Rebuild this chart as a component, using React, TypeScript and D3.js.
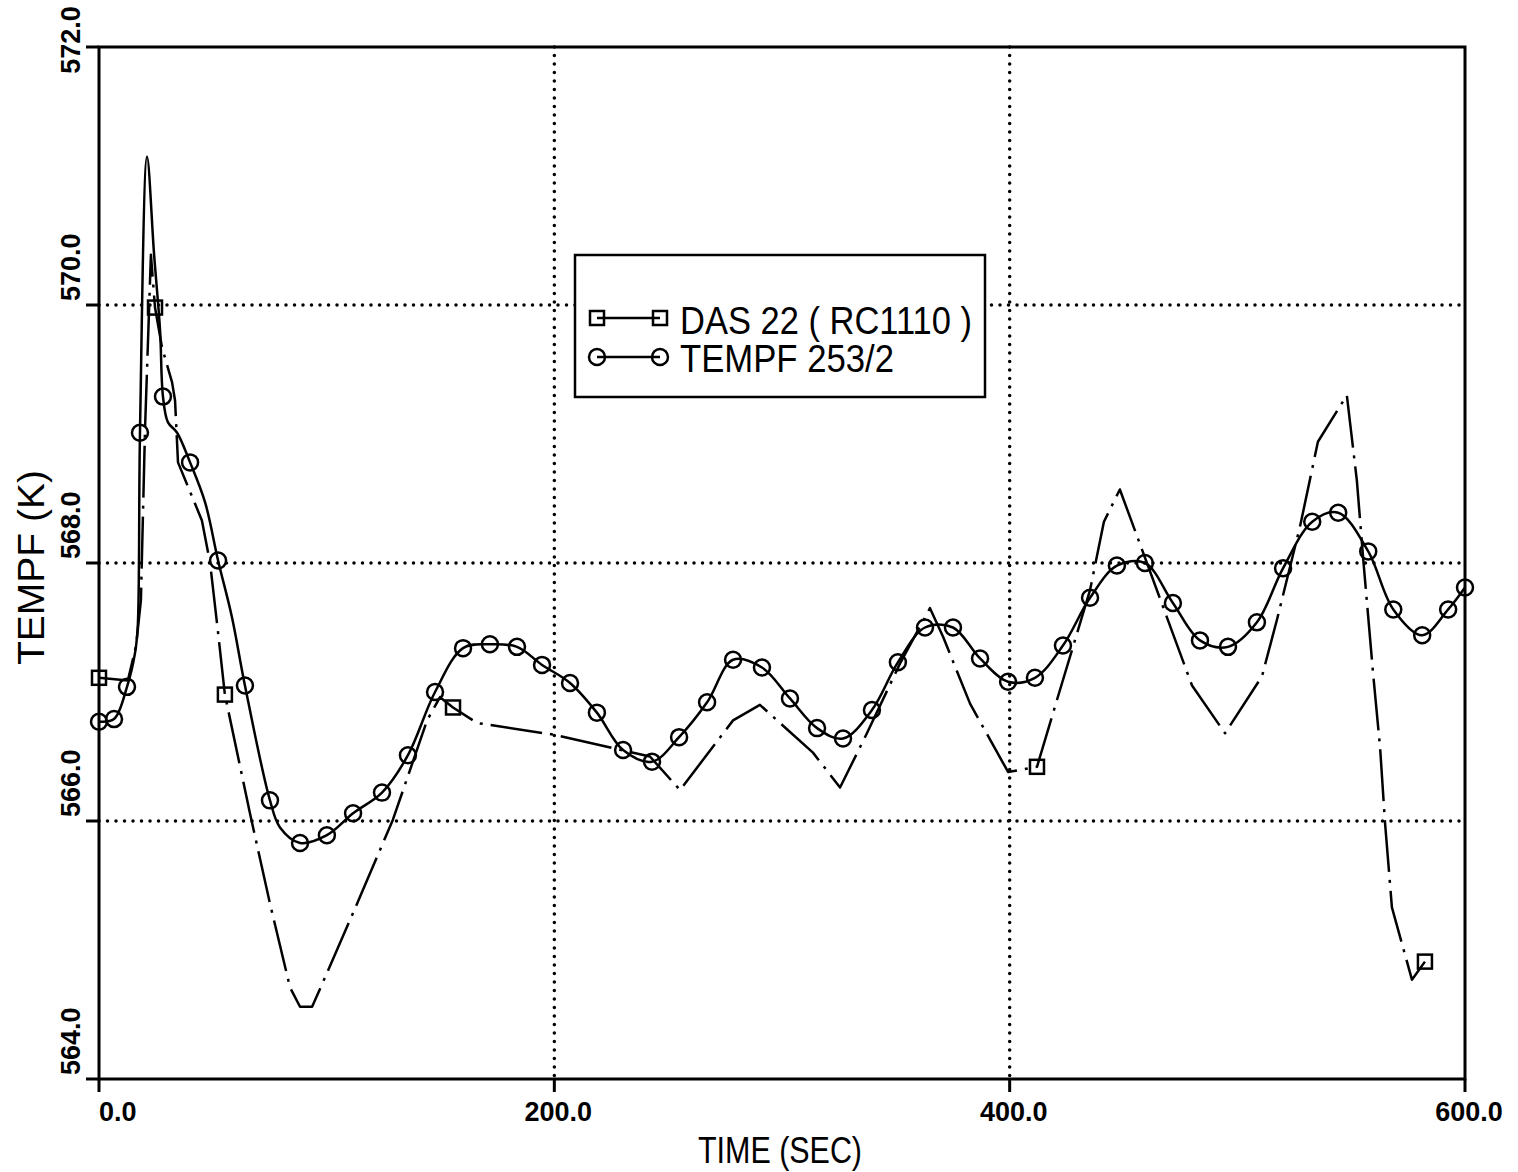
import React from 'react'
import * as d3 from 'd3'

const width = 1518
const height = 1172
const plot = { left: 99, right: 1465, top: 47, bottom: 1079 }

const xTicks = [0, 200, 400, 600]
const xTickLabels = ['0.0', '200.0', '400.0', '600.0']
const yTicks = [564, 566, 568, 570, 572]
const yTickLabels = ['564.0', '566.0', '568.0', '570.0', '572.0']
const xGrid = [200, 400]
const yGrid = [566, 568, 570]

const seriesNames = ['DAS 22 ( RC1110 )', 'TEMPF 253/2']

// DAS 22 (RC1110), dash-dot line, squares on a few points
const dasTime = [
  0, 12.7, 16.3, 18.4, 20.2, 22.8, 24.6, 27.7, 32.1, 33.4, 34.7, 45.2, 48.8, 52.3, 55.3,
  66.3, 75.1, 83.9, 88.3, 93.6, 100.1, 114.6, 129.1, 144.1, 149.8, 155.5, 166.0, 199.4,
  242.0, 255.2, 278.5, 290.3, 313.6, 325.5, 337.3, 351.8, 365.0, 370.7, 382.6, 399.3,
  412.0, 420.8, 435.3, 441.4, 448.4, 480.1, 494.6, 510.8, 517.4, 527.5, 535.4, 548.1,
  552.5, 555.2, 559.6, 562.7, 564.9, 567.9, 576.7, 582.4
]
const dasTemp = [
  567.11, 567.09, 567.36, 567.71, 569.03, 570.39, 569.98, 569.67, 569.40, 569.26, 568.78,
  568.33, 568.00, 567.46, 566.98, 566.06, 565.36, 564.71, 564.56, 564.56, 564.82, 565.41,
  566.01, 566.78, 566.96, 566.88, 566.76, 566.67, 566.50, 566.24, 566.78, 566.90, 566.53,
  566.26, 566.68, 567.22, 567.65, 567.43, 566.91, 566.38, 566.42, 566.94, 567.79, 568.32,
  568.57, 567.05, 566.68, 567.12, 567.56, 568.28, 568.94, 569.30, 568.64, 568.05, 567.15,
  566.57, 565.98, 565.33, 564.77, 564.91
]
const dasMarked = [0, 6, 14, 25, 40, 59]

// TEMPF 253/2, smooth solid line, circles on most points
const tempfTime = [
  0, 6.6, 12.3, 15.8, 17.0, 18.0, 21.1, 24.2, 26.8, 28.1, 30.3, 34.3, 40.0, 46.6, 52.3,
  58.4, 64.1, 75.1, 79.5, 88.3, 100.1, 111.6, 124.3, 135.7, 147.6, 159.9, 171.7, 183.6,
  194.6, 206.9, 218.7, 230.2, 242.9, 254.8, 267.1, 278.5, 291.2, 303.5, 315.4, 326.8,
  339.5, 350.9, 362.8, 375.1, 387.0, 399.3, 411.1, 423.4, 435.3, 447.1, 459.4, 471.7,
  483.6, 495.9, 508.6, 520.1, 532.9, 544.3, 557.5, 568.5, 581.2, 592.6, 600.0
]
const tempfTemp = [
  566.77, 566.79, 567.04, 567.30, 567.50, 569.01, 571.15, 570.39, 569.81, 569.29, 569.09,
  569.01, 568.78, 568.47, 568.02, 567.58, 567.05, 566.16, 565.95, 565.83, 565.89, 566.06,
  566.22, 566.51, 567.00, 567.34, 567.37, 567.35, 567.21, 567.07, 566.84, 566.55, 566.46,
  566.65, 566.92, 567.25, 567.19, 566.95, 566.72, 566.64, 566.86, 567.23, 567.50, 567.50,
  567.26, 567.08, 567.11, 567.36, 567.73, 567.98, 568.00, 567.69, 567.40, 567.35, 567.54,
  567.96, 568.32, 568.39, 568.09, 567.64, 567.44, 567.64, 567.81
]
const tempfUnmarked = [3, 4, 6, 7, 8, 10, 11, 13, 15, 18]

const x = d3.scaleLinear().domain([0, 600]).range([plot.left, plot.right])
const y = d3.scaleLinear().domain([564, 572]).range([plot.bottom, plot.top])

const dasLine = d3.line<number>()
  .x((d, i) => x(dasTime[i]))
  .y(d => y(d))

const tempfLine = d3.line<number>()
  .x((d, i) => x(tempfTime[i]))
  .y(d => y(d))
  .curve(d3.curveCatmullRom.alpha(0.5))

const labelFont = "'Liberation Sans', Arial, sans-serif"
const titleFont = "'Liberation Sans', Arial, sans-serif"

const Square = ({ cx, cy }: { cx: number; cy: number }) => (
  <rect x={cx - 7} y={cy - 7} width={14} height={14} fill="none" stroke="#000" strokeWidth={2.5} />
)
const Circle = ({ cx, cy }: { cx: number; cy: number }) => (
  <circle cx={cx} cy={cy} r={8} fill="none" stroke="#000" strokeWidth={2.5} />
)

const App = () => {
  const legX = 575
  const legY = 255
  return (
    <svg width={width} height={height} style={{ position: 'absolute', left: 0, top: 0, background: '#fff' }}>
      {/* grid */}
      <g stroke="#000" strokeWidth={3.5} strokeLinecap="round" strokeDasharray="0 8.5">
        {xGrid.map(v => (
          <line key={'gx' + v} x1={x(v)} x2={x(v)} y1={plot.top} y2={plot.bottom} />
        ))}
        {yGrid.map(v => (
          <line key={'gy' + v} x1={plot.left} x2={plot.right} y1={y(v)} y2={y(v)} />
        ))}
      </g>

      {/* frame and ticks */}
      <rect x={plot.left} y={plot.top} width={plot.right - plot.left} height={plot.bottom - plot.top}
        fill="none" stroke="#000" strokeWidth={3} />
      {yTicks.map(v => (
        <line key={'ty' + v} x1={plot.left - 13} x2={plot.left} y1={y(v)} y2={y(v)} stroke="#000" strokeWidth={3} />
      ))}
      {xTicks.map(v => (
        <line key={'tx' + v} x1={x(v)} x2={x(v)} y1={plot.bottom} y2={plot.bottom + 13} stroke="#000" strokeWidth={3} />
      ))}

      {/* tick labels */}
      <g fontFamily={labelFont} fontSize={27} fontWeight="bold" fill="#000">
        {xTicks.map((v, i) => (
          <text key={'lx' + v} x={i === 0 ? x(v) : x(v) + 4} y={1121} textAnchor={i === 0 ? 'start' : 'middle'}>
            {xTickLabels[i]}
          </text>
        ))}
        {yTicks.map((v, i) => {
          const last = i === yTicks.length - 1
          return (
            <text key={'ly' + v} transform={`translate(80,${last ? y(v) - 7 : y(v) - 4}) rotate(-90)`}
              textAnchor={last ? 'middle' : 'start'}>
              {yTickLabels[i]}
            </text>
          )
        })}
      </g>

      {/* axis titles */}
      <text x={698} y={1163} textLength={164} lengthAdjust="spacingAndGlyphs"
        fontFamily={titleFont} fontSize={36} fill="#000">TIME (SEC)</text>
      <text transform="translate(44,665) rotate(-90)" textLength={195} lengthAdjust="spacingAndGlyphs"
        fontFamily={titleFont} fontSize={36} fill="#000">
        TEMPF (K)
      </text>

      {/* series */}
      <path d={dasLine(dasTemp) || ''} fill="none" stroke="#000" strokeWidth={2.5}
        strokeDasharray="52 8 3 8" strokeLinejoin="round" />
      {dasMarked.map(i => (
        <Square key={'sq' + i} cx={x(dasTime[i])} cy={y(dasTemp[i])} />
      ))}
      <path d={tempfLine(tempfTemp) || ''} fill="none" stroke="#000" strokeWidth={2.5} strokeLinejoin="round" />
      {tempfTemp.map((v, i) => tempfUnmarked.includes(i) ? null : (
        <Circle key={'c' + i} cx={x(tempfTime[i])} cy={y(v)} />
      ))}

      {/* legend */}
      <rect x={legX} y={legY} width={410} height={142} fill="#fff" stroke="#000" strokeWidth={2.5} />
      <line x1={legX + 22} x2={legX + 85} y1={318} y2={318} stroke="#000" strokeWidth={2.5} />
      <Square cx={legX + 22} cy={318} />
      <Square cx={legX + 85} cy={318} />
      <line x1={legX + 22} x2={legX + 85} y1={357} y2={357} stroke="#000" strokeWidth={2.5} />
      <Circle cx={legX + 22} cy={357} />
      <Circle cx={legX + 85} cy={357} />
      <g fontFamily={titleFont} fontSize={38} fill="#000">
        <text x={legX + 105} y={334} textLength={292} lengthAdjust="spacingAndGlyphs">{seriesNames[0]}</text>
        <text x={legX + 105} y={372} textLength={214} lengthAdjust="spacingAndGlyphs">{seriesNames[1]}</text>
      </g>
    </svg>
  )
}

export default App
